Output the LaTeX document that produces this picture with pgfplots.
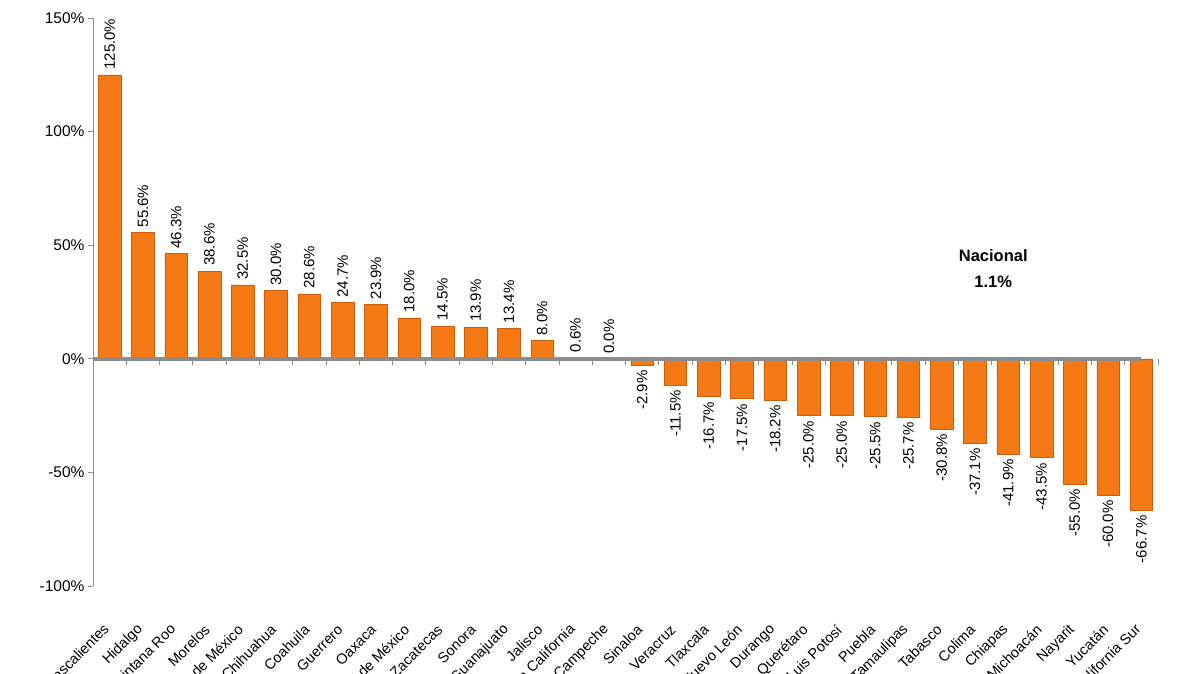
\documentclass[border=0pt]{standalone}
\usepackage{fontspec}
\setmainfont{Liberation Sans}
\usepackage{pgfplots}
\usepackage{pgfplotstable}
\pgfplotsset{compat=1.18}

\definecolor{barfill}{RGB}{245,122,22}
\definecolor{baredge}{RGB}{205,95,12}
\definecolor{axisgray}{RGB}{140,140,140}

% variación por entidad, positivas y negativas por separado
\pgfplotstableread{
x val
0 125.0
1 55.6
2 46.3
3 38.6
4 32.5
5 30.0
6 28.6
7 24.7
8 23.9
9 18.0
10 14.5
11 13.9
12 13.4
13 8.0
14 0.6
15 0.0
}\positivos
\pgfplotstableread{
x val
16 -2.9
17 -11.5
18 -16.7
19 -17.5
20 -18.2
21 -25.0
22 -25.0
23 -25.5
24 -25.7
25 -30.8
26 -37.1
27 -41.9
28 -43.5
29 -55.0
30 -60.0
31 -66.7
}\negativos

\begin{document}
\begin{tikzpicture}
\begin{axis}[
  at={(93pt,88pt)}, anchor=south west,
  scale only axis, width=1065pt, height=568pt,
  xmin=-0.5, xmax=31.5, ymin=-100, ymax=150,
  axis y line*=left, axis x line*=bottom,
  x axis line style={draw=none},
  y axis line style={axisgray, line width=1pt},
  ytick={-100,-50,0,50,100,150},
  yticklabel={\pgfmathprintnumber{\tick}\%},
  ytick style={axisgray, line width=0.8pt},
  tick align=outside, major tick length=5pt,
  xtick={0,...,31}, xtick style={draw=none},
  xticklabels={Aguascalientes,Hidalgo,Quintana Roo,Morelos,Estado de México,Chihuahua,Coahuila,Guerrero,Oaxaca,Ciudad de México,Zacatecas,Sonora,Guanajuato,Jalisco,Baja California,Campeche,Sinaloa,Veracruz,Tlaxcala,Nuevo León,Durango,Querétaro,San Luis Potosí,Puebla,Tamaulipas,Tabasco,Colima,Chiapas,Michoacán,Nayarit,Yucatán,Baja California Sur},
  xticklabel style={rotate=45, anchor=east, font=\fontsize{14.5}{17}\selectfont},
  xticklabel shift=34pt,
  yticklabel style={font=\fontsize{15.5}{18}\selectfont},
  /pgf/number format/assume math mode=true,
  nodes near coords={\pgfmathprintnumber[fixed,fixed zerofill,precision=1]{\pgfplotspointmeta}\%},
  every node near coord/.append style={rotate=90, font=\fontsize{15}{18}\selectfont, black},
  clip=false,
]
\addplot[ybar, bar shift=0pt, bar width=0.68, draw=baredge, line width=0.5pt,
  fill=barfill, nodes near coords style={anchor=west, inner sep=5pt}]
  table[x=x, y=val] {\positivos};
\addplot[ybar, bar shift=0pt, bar width=0.68, draw=baredge, line width=0.5pt,
  fill=barfill, nodes near coords style={anchor=east, inner sep=5pt}]
  table[x=x, y=val] {\negativos};
% linea del cero con sus marcas
\draw[axisgray, line width=3.5pt] (axis cs:-0.5,0) -- (axis cs:31,0);
\pgfplotsinvokeforeach{0,...,31}{
  \draw[axisgray, line width=0.8pt] (axis cs:#1+0.5,0) -- ([yshift=-6pt]axis cs:#1+0.5,0);
}
\node[align=center, font=\fontsize{16.5}{26}\selectfont\bfseries]
  at (axis cs:26.55,39.8) {Nacional\\1.1\%};
\end{axis}
\pgfresetboundingbox
\path[use as bounding box] (0,0) rectangle (1200pt,674pt);
\end{tikzpicture}
\end{document}
